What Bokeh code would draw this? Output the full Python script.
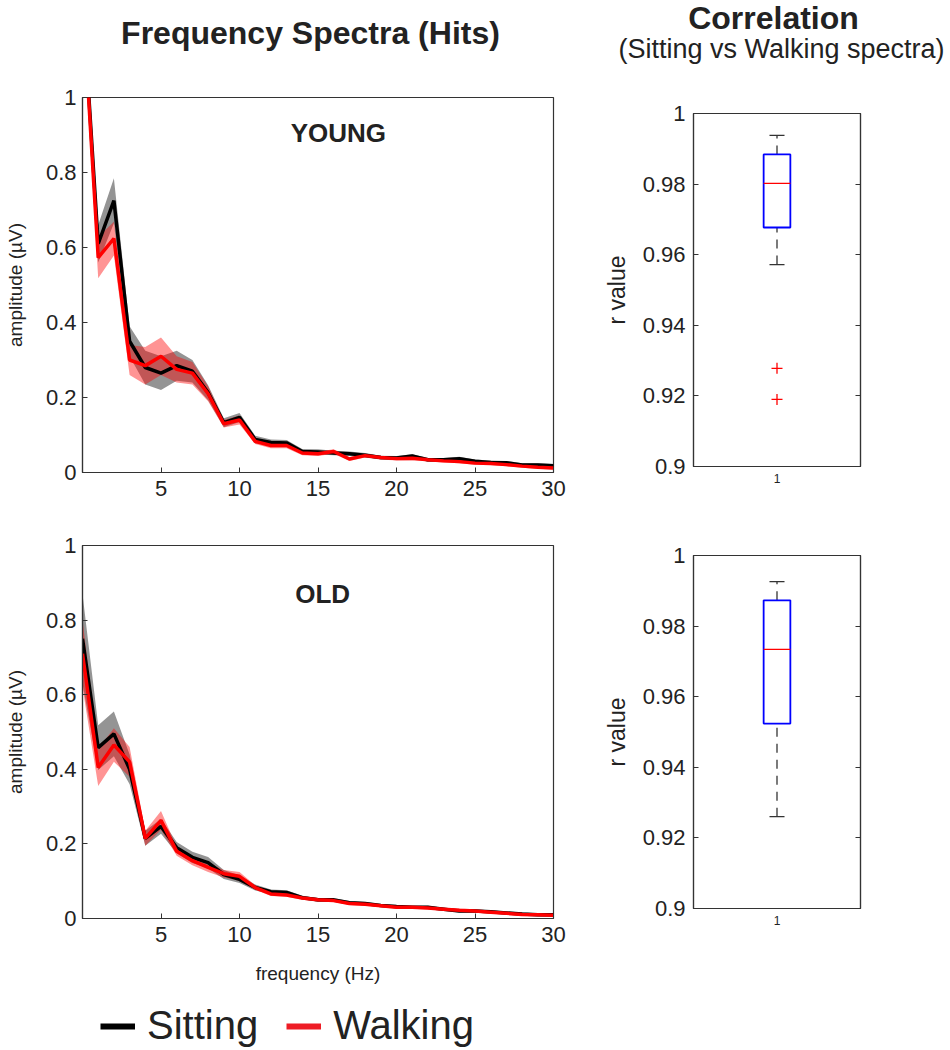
from bokeh.plotting import figure
from bokeh.models import (ColumnDataSource, FixedTicker, PrintfTickFormatter,
                          Legend, LegendItem, LinearAxis, Range1d)
from bokeh.layouts import row, column
from bokeh.core.properties import value
from bokeh.embed import file_html
from bokeh.resources import INLINE

# ---------------- data ----------------
freq = list(range(0, 31))

young_sit = [1.27, 0.61, 0.725, 0.35, 0.28, 0.265, 0.285, 0.27, 0.213, 0.133, 0.147,
             0.088, 0.08, 0.079, 0.056, 0.055, 0.052, 0.05, 0.046, 0.04, 0.039,
             0.044, 0.034, 0.034, 0.037, 0.03, 0.027, 0.026, 0.02, 0.02, 0.018]
young_sit_err = [0.05, 0.05, 0.06, 0.04, 0.045, 0.045, 0.04, 0.03, 0.02, 0.012, 0.012,
                 0.01, 0.008, 0.008, 0.007, 0.007, 0.006, 0.006, 0.006, 0.005, 0.005,
                 0.005, 0.005, 0.005, 0.005, 0.005, 0.005, 0.005, 0.005, 0.005, 0.005]
young_walk = [1.27, 0.573, 0.624, 0.30, 0.285, 0.31, 0.275, 0.265, 0.21, 0.13, 0.14,
              0.083, 0.072, 0.072, 0.052, 0.05, 0.056, 0.036, 0.045, 0.04, 0.037,
              0.038, 0.034, 0.031, 0.029, 0.025, 0.024, 0.021, 0.017, 0.014, 0.012]
young_walk_err = [0.05, 0.055, 0.045, 0.04, 0.05, 0.05, 0.035, 0.03, 0.02, 0.01, 0.012,
                  0.007, 0.007, 0.007, 0.006, 0.006, 0.006, 0.005, 0.005, 0.005, 0.005,
                  0.005, 0.004, 0.004, 0.004, 0.004, 0.004, 0.004, 0.004, 0.004, 0.004]

old_sit = [0.75, 0.458, 0.495, 0.40, 0.215, 0.247, 0.19, 0.164, 0.15, 0.118, 0.105,
           0.083, 0.072, 0.07, 0.056, 0.05, 0.05, 0.042, 0.04, 0.035, 0.032,
           0.03, 0.03, 0.025, 0.02, 0.02, 0.018, 0.015, 0.012, 0.01, 0.01]
old_sit_err = [0.12, 0.06, 0.06, 0.04, 0.02, 0.02, 0.015, 0.015, 0.015, 0.012, 0.01,
               0.008, 0.006, 0.006, 0.005, 0.005, 0.005, 0.005, 0.004, 0.004, 0.004,
               0.004, 0.004, 0.004, 0.004, 0.004, 0.004, 0.004, 0.004, 0.004, 0.004]
old_walk = [0.71, 0.405, 0.465, 0.42, 0.215, 0.263, 0.18, 0.155, 0.137, 0.12, 0.113,
            0.083, 0.066, 0.063, 0.055, 0.05, 0.048, 0.04, 0.038, 0.034, 0.03,
            0.03, 0.028, 0.025, 0.022, 0.02, 0.017, 0.014, 0.011, 0.01, 0.009]
old_walk_err = [0.09, 0.05, 0.045, 0.04, 0.02, 0.025, 0.012, 0.012, 0.012, 0.01, 0.012,
                0.006, 0.006, 0.005, 0.005, 0.005, 0.004, 0.004, 0.004, 0.004, 0.004,
                0.004, 0.004, 0.004, 0.004, 0.004, 0.004, 0.004, 0.004, 0.004, 0.004]

# box plot stats: lower whisker, q1, median, q3, upper whisker
young_box = [0.9572, 0.9677, 0.9802, 0.9884, 0.9938]
young_outliers = [0.9278, 0.919]
old_box = [0.926, 0.9524, 0.9734, 0.9873, 0.9926]
old_outliers = []

series_names = ["Sitting", "Walking"]

FONT = "Liberation Sans"
TXT = "#222222"
AX = "#333333"
NAN = float("nan")


def style_axes(p):
    p.xgrid.visible = False
    p.ygrid.visible = False
    p.outline_line_color = AX
    p.outline_line_width = 1.2
    p.background_fill_color = "white"
    p.border_fill_color = "white"
    for ax in p.xaxis + p.yaxis:
        ax.axis_line_color = AX
        ax.axis_line_width = 1.2
        ax.major_tick_line_color = AX
        ax.major_tick_in = 5
        ax.major_tick_out = 0
        ax.minor_tick_line_color = None
        ax.major_label_text_font = FONT
        ax.major_label_text_color = TXT
        ax.axis_label_text_font = FONT
        ax.axis_label_text_color = TXT
        ax.axis_label_text_font_style = "normal"


def blank(width, height, xmax, ymax):
    p = figure(width=width, height=height, x_range=Range1d(0, xmax), y_range=Range1d(0, ymax),
               output_backend="svg", toolbar_location=None, title=None,
               x_axis_location=None, y_axis_location=None, min_border=0)
    p.xgrid.visible = False
    p.ygrid.visible = False
    p.outline_line_color = None
    p.background_fill_color = "white"
    p.border_fill_color = "white"
    return p


def spectra(width, height, bl, br, bt, bb, sit, sit_err, walk, walk_err, label, lx, ly, xlabel):
    p = figure(width=width, height=height, x_range=Range1d(0, 30), y_range=Range1d(0, 1),
               output_backend="svg", toolbar_location=None, title=None,
               min_border_left=bl, min_border_right=br, min_border_top=bt, min_border_bottom=bb)
    src = ColumnDataSource(dict(
        f=freq, s=sit, w=walk,
        sl=[a - e for a, e in zip(sit, sit_err)], sh=[a + e for a, e in zip(sit, sit_err)],
        wl=[a - e for a, e in zip(walk, walk_err)], wh=[a + e for a, e in zip(walk, walk_err)]))
    p.varea(x="f", y1="sl", y2="sh", source=src, fill_color="black", fill_alpha=0.42)
    p.varea(x="f", y1="wl", y2="wh", source=src, fill_color="#ff0000", fill_alpha=0.42)
    p.line(x="f", y="s", source=src, line_color="black", line_width=3.5)
    p.line(x="f", y="w", source=src, line_color="#ff0000", line_width=3.5)
    p.text(x=[lx], y=[ly], text=[label], text_font=value(FONT), text_font_style="bold",
           text_font_size="26px", text_align="center", text_baseline="middle", text_color=TXT)
    style_axes(p)
    p.xaxis.ticker = FixedTicker(ticks=[5, 10, 15, 20, 25, 30])
    p.yaxis.ticker = FixedTicker(ticks=[0, 0.2, 0.4, 0.6, 0.8, 1.0])
    p.yaxis.formatter = PrintfTickFormatter(format="%g")
    p.xaxis.major_label_text_font_size = "22px"
    p.yaxis.major_label_text_font_size = "22px"
    p.xaxis.major_label_standoff = 8
    p.yaxis.major_label_standoff = 6
    p.yaxis.axis_label = "amplitude (µV)"
    p.yaxis.axis_label_text_font_size = "19px"
    p.yaxis.axis_label_standoff = 17
    if xlabel:
        p.xaxis.axis_label = xlabel
        p.xaxis.axis_label_text_font_size = "19px"
        p.xaxis.axis_label_standoff = 18
    return p


def boxfig(width, height, bl, br, bt, bb, stats, outliers):
    p = figure(width=width, height=height, x_range=Range1d(0.5, 1.5), y_range=Range1d(0.9, 1.0),
               output_backend="svg", toolbar_location=None, title=None,
               min_border_left=bl, min_border_right=br, min_border_top=bt, min_border_bottom=bb)
    lo, q1, med, q3, hi = stats
    hw, cw = 0.08, 0.045
    p.segment(x0=[1, 1], y0=[q3, lo], x1=[1, 1], y1=[hi, q1], line_color="#333333",
              line_width=1.3, line_dash="9 7")
    p.segment(x0=[1 - cw, 1 - cw], y0=[hi, lo], x1=[1 + cw, 1 + cw], y1=[hi, lo],
              line_color="#333333", line_width=1.3)
    p.quad(left=[1 - hw], right=[1 + hw], bottom=[q1], top=[q3], fill_color=None,
           line_color="#0000ff", line_width=1.8)
    p.segment(x0=[1 - hw], y0=[med], x1=[1 + hw], y1=[med], line_color="#ff0000", line_width=1.3)
    if outliers:
        p.scatter(x=[1] * len(outliers), y=outliers, marker="cross", size=11,
                  line_color="#ff0000", line_width=1.3)
    right = LinearAxis()
    p.add_layout(right, "right")
    style_axes(p)
    ticks = [0.9, 0.92, 0.94, 0.96, 0.98, 1.0]
    for ax in p.yaxis:
        ax.ticker = FixedTicker(ticks=ticks)
        ax.formatter = PrintfTickFormatter(format="%g")
        ax.major_label_text_font_size = "22px"
        ax.major_label_standoff = 8
    right.major_label_text_font_size = "0px"
    right.major_label_text_alpha = 0
    p.yaxis[0].axis_label = "r value"
    p.yaxis[0].axis_label_text_font_size = "23px"
    p.yaxis[0].axis_label_standoff = 10
    p.xaxis.ticker = FixedTicker(ticks=[1])
    p.xaxis.major_tick_in = 0
    p.xaxis.major_label_text_font_size = "12px"
    p.xaxis.major_label_standoff = 7
    return p


# ---------------- header ----------------
header = blank(948, 80, 948, 80)
header.text(x=[310], y=[48], text=["Frequency Spectra (Hits)"], text_font=value(FONT),
            text_font_size="32px", text_font_style="bold", text_color=TXT,
            text_align="center", text_baseline="middle")
header.text(x=[773], y=[63], text=["Correlation"], text_font=value(FONT),
            text_font_size="32px", text_font_style="bold", text_color=TXT,
            text_align="center", text_baseline="middle")
header.text(x=[781], y=[32], text=["(Sitting vs Walking spectra)"], text_font=value(FONT),
            text_font_size="27px", text_color=TXT, text_align="center", text_baseline="middle")

# ---------------- panels ----------------
tl = spectra(600, 430, 82, 47, 17, 38, young_sit, young_sit_err, young_walk, young_walk_err,
             "YOUNG", 16.3, 0.905, None)
bl = spectra(600, 488, 82, 47, 35, 80, old_sit, old_sit_err, old_walk, old_walk_err,
             "OLD", 15.3, 0.87, "frequency (Hz)")
tr = boxfig(348, 430, 86, 88, 33, 44, young_box, young_outliers)
br = boxfig(348, 538, 86, 88, 45, 140, old_box, old_outliers)

# ---------------- legend ----------------
leg = blank(600, 50, 600, 50)
dummy_s = leg.line(x=[NAN, NAN], y=[NAN, NAN], line_color="black", line_width=6)
dummy_w = leg.line(x=[NAN, NAN], y=[NAN, NAN], line_color="#ee1c25", line_width=6)
legend = Legend(items=[LegendItem(label=series_names[0], renderers=[dummy_s]),
                       LegendItem(label=series_names[1], renderers=[dummy_w])],
                orientation="horizontal", location=(18, 0),
                label_text_font=FONT, label_text_font_size="40px", label_text_color=TXT,
                glyph_width=35, glyph_height=30, spacing=28, label_standoff=12,
                padding=0, margin=0, border_line_alpha=0, background_fill_alpha=0)
leg.add_layout(legend, "center")

layout = column(header, row(column(tl, bl, leg), column(tr, br)))
open("out.html", "w").write(file_html(layout, INLINE))
